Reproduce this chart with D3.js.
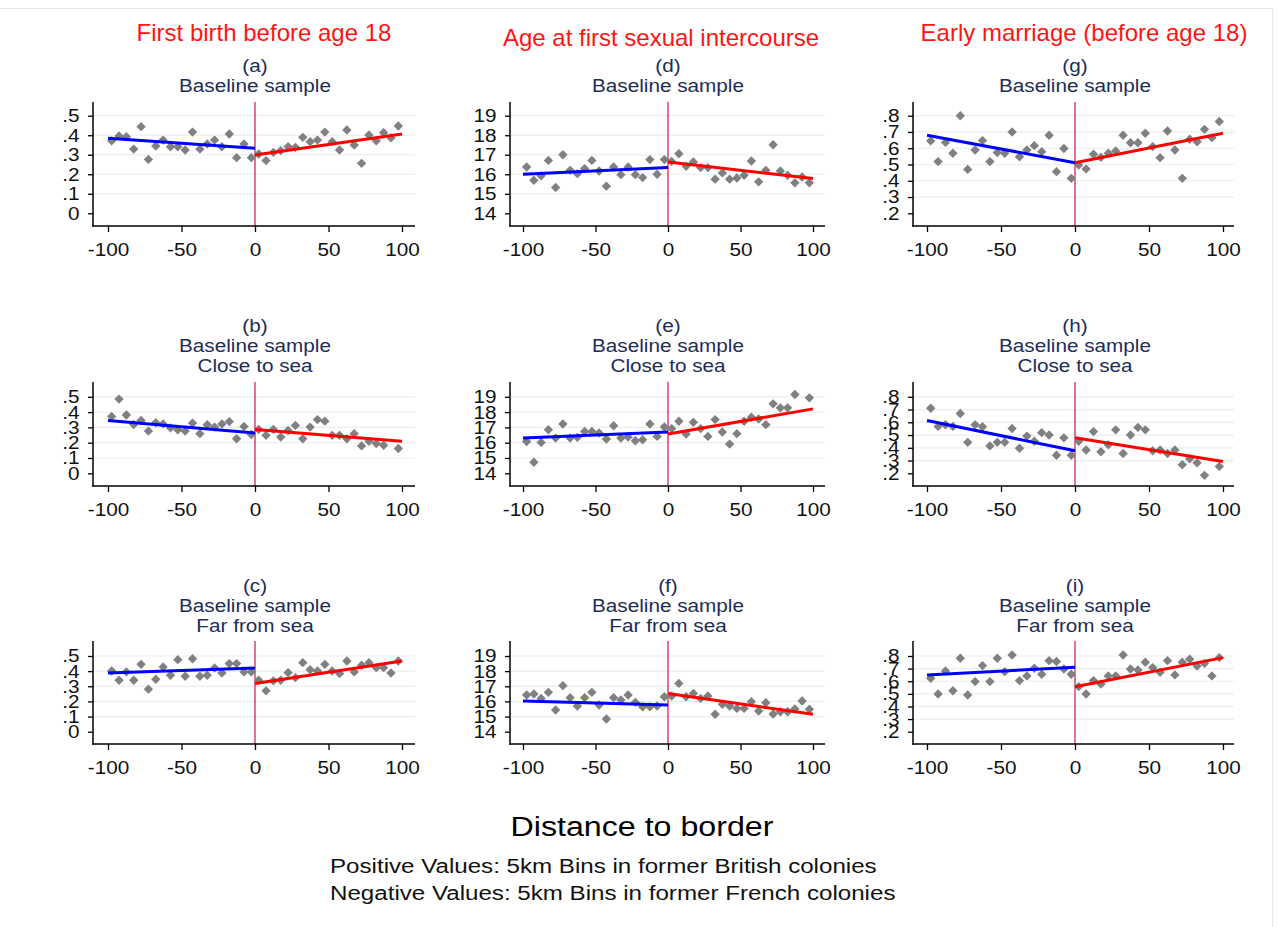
<!DOCTYPE html>
<html><head><meta charset="utf-8">
<script src="https://cdn.jsdelivr.net/npm/d3@7"></script>
<style>body{margin:0;background:#fff;} svg{display:block;font-family:Arial,"Liberation Sans",sans-serif;}</style>
</head><body><svg id="c" width="1282" height="927"></svg>
<script>
// ---------------- DATA ----------------
const headers = ["First birth before age 18", "Age at first sexual intercourse", "Early marriage (before age 18)"];
const xTicks = [-100, -50, 0, 50, 100];
const yTicksBirth = [0, 0.1, 0.2, 0.3, 0.4, 0.5];
const yTicksAge = [14, 15, 16, 17, 18, 19];
const yTicksMarriage = [0.2, 0.3, 0.4, 0.5, 0.6, 0.7, 0.8];
const binsFrench = [-97.5, -92.5, -87.5, -82.5, -77.5, -72.5, -67.5, -62.5, -57.5, -52.5, -47.5, -42.5, -37.5, -32.5, -27.5, -22.5, -17.5, -12.5, -7.5, -2.5];
const binsBritish = [2.5, 7.5, 12.5, 17.5, 22.5, 27.5, 32.5, 37.5, 42.5, 47.5, 52.5, 57.5, 62.5, 67.5, 72.5, 77.5, 82.5, 87.5, 92.5, 97.5];
const fitEnds = [-100, 0, 100];
const sampleLines = [["Baseline sample"], ["Baseline sample", "Close to sea"], ["Baseline sample", "Far from sea"]];

const a_fr = [.372,.396,.392,.329,.444,.276,.345,.375,.341,.341,.324,.416,.329,.355,.375,.341,.406,.285,.355,.285];
const a_br = [.304,.270,.312,.321,.341,.338,.389,.367,.375,.416,.367,.324,.427,.350,.256,.401,.372,.413,.387,.447];
const a_fitFr = [.384, .333], a_fitBr = [.299, .406];

const b_fr = [.371,.485,.381,.319,.345,.276,.330,.323,.297,.284,.276,.328,.259,.317,.302,.323,.338,.226,.306,.254];
const b_br = [.287,.248,.287,.237,.280,.313,.226,.302,.351,.341,.248,.248,.226,.259,.179,.209,.194,.183,null,.162];
const b_fitFr = [.345, .263], b_fitBr = [.287, .209];

const c_fr = [.401,.340,.395,.340,.445,.281,.346,.428,.373,.476,.366,.482,.366,.373,.421,.388,.450,.450,.395,.395];
const c_br = [.340,.270,.336,.340,.390,.357,.456,.410,.401,.445,.401,.384,.467,.395,.439,.456,.423,.423,.388,.467];
const c_fitFr = [.388, .421], c_fitBr = [.318, .467];

const d_fr = [16.37,15.69,15.92,16.71,15.32,17.0,16.2,16.03,16.29,16.71,16.17,15.39,16.37,15.98,16.37,15.98,15.83,16.75,16.0,16.75];
const d_br = [16.66,17.05,16.41,16.63,16.34,16.34,15.75,16.07,15.75,15.81,15.95,16.68,15.61,16.2,17.51,16.17,15.95,15.56,15.86,15.56];
const d_fitFr = [16.0, 16.34], d_fitBr = [16.63, 15.78];

const e_fr = [16.08,14.72,16.02,16.85,16.3,17.22,16.3,16.35,16.74,16.74,16.63,16.24,17.11,16.3,16.37,16.13,16.19,17.22,16.41,17.03];
const e_br = [16.92,17.4,16.57,17.33,16.92,16.41,17.51,16.7,15.91,16.59,17.4,17.66,17.55,17.18,18.54,18.28,18.28,19.15,null,18.93];
const e_fitFr = [16.3, 16.7], e_fitBr = [16.57, 18.21];

const f_fr = [16.42,16.49,16.2,16.6,15.43,17.04,16.25,15.7,16.25,16.6,15.76,14.84,16.25,16.09,16.42,15.94,15.65,15.65,15.7,16.31];
const f_br = [16.36,17.19,16.31,16.53,16.2,16.36,15.15,15.81,15.7,15.54,15.54,15.98,15.37,15.92,15.17,15.32,15.32,15.5,16.03,15.48];
const f_fitFr = [16.03, 15.76], f_fitBr = [16.53, 15.15];

const g_fr = [.645,.518,.636,.569,.800,.470,.589,.647,.518,.573,.569,.700,.548,.589,.616,.579,.680,.456,.598,.415];
const g_br = [.497,.473,.563,.544,.569,.583,.680,.634,.634,.692,.610,.542,.706,.589,.415,.655,.640,.716,.665,.764];
const g_fitFr = [.680, .511], g_fitBr = [.511, .692];

const h_fr = [.710,.568,.581,.568,.669,.443,.581,.565,.415,.443,.443,.551,.396,.492,.451,.519,.500,.342,.478,.342];
const h_br = [.451,.383,.527,.369,.423,.541,.355,.500,.560,.541,.377,.383,.355,.383,.268,.314,.282,.184,null,.254];
const h_fitFr = [.614, .377], h_fitBr = [.478, .293];

const i_fr = [.623,.499,.681,.525,.782,.491,.597,.724,.597,.782,.676,.808,.605,.642,.703,.655,.763,.756,.697,.655];
const i_br = [.557,.499,.605,.578,.642,.642,.808,.697,.689,.750,.708,.671,.763,.650,.750,.774,.721,.742,.642,.787];
const i_fitFr = [.650, .711], i_fitBr = [.557, .787];

const xTitle = "Distance to border";
const notes = ["Positive Values: 5km Bins in former British colonies", "Negative Values: 5km Bins in former French colonies"];

// ---------------- LAYOUT ----------------
const panels = [
  {letter:"a", col:0, row:0, ticks:yTicksBirth, fr:a_fr, br:a_br, fitFr:a_fitFr, fitBr:a_fitBr},
  {letter:"b", col:0, row:1, ticks:yTicksBirth, fr:b_fr, br:b_br, fitFr:b_fitFr, fitBr:b_fitBr},
  {letter:"c", col:0, row:2, ticks:yTicksBirth, fr:c_fr, br:c_br, fitFr:c_fitFr, fitBr:c_fitBr},
  {letter:"d", col:1, row:0, ticks:yTicksAge, fr:d_fr, br:d_br, fitFr:d_fitFr, fitBr:d_fitBr},
  {letter:"e", col:1, row:1, ticks:yTicksAge, fr:e_fr, br:e_br, fitFr:e_fitFr, fitBr:e_fitBr},
  {letter:"f", col:1, row:2, ticks:yTicksAge, fr:f_fr, br:f_br, fitFr:f_fitFr, fitBr:f_fitBr},
  {letter:"g", col:2, row:0, ticks:yTicksMarriage, fr:g_fr, br:g_br, fitFr:g_fitFr, fitBr:g_fitBr},
  {letter:"h", col:2, row:1, ticks:yTicksMarriage, fr:h_fr, br:h_br, fitFr:h_fitFr, fitBr:h_fitBr},
  {letter:"i", col:2, row:2, ticks:yTicksMarriage, fr:i_fr, br:i_br, fitFr:i_fitFr, fitBr:i_fitBr}
];
const cols = [
  {axisX:93, x0:108, x1:402, right:415, hx:264, hy:41},
  {axisX:510, x0:523, x1:813, right:825, hx:661, hy:46},
  {axisX:913, x0:927, x1:1223, right:1234, hx:1084, hy:41}
];
const rows = [
  {top:102, bottom:226, tTop:115.7, tBot:213.3, titleY:65},
  {top:382, bottom:486, tTop:396.8, tBot:473.3, titleY:325},
  {top:641, bottom:744, tTop:656, tBot:731.7, titleY:585}
];
const SX = 1.12;
const FS = 18.5;
const titleColor = "#1d2d58";

const svg = d3.select("#c");
svg.append("rect").attr("width",1282).attr("height",927).attr("fill","#fff");
svg.append("path").attr("d","M0,8.5H1272.5V927").attr("fill","none").attr("stroke","#e3eaec").attr("stroke-width",1);

function txt(g, x, y, s, size, color, anchor, sx){
  return g.append("text").attr("transform",`translate(${x},${y}) scale(${sx},1)`)
    .attr("text-anchor", anchor).attr("font-size", size).attr("fill", color).text(s);
}

// column headers
headers.forEach((h,i)=>{
  txt(svg, cols[i].hx, cols[i].hy, h, 24, "#ff1414", "middle", 1);
});

const fmtShort = d => d === 0 ? "0" : (Number.isInteger(d) ? String(d) : String(+d.toFixed(2)).replace(/^0\./, "."));
const diamond = d3.symbol().type(d3.symbolSquare).size(44)();

panels.forEach(p => {
  const C = cols[p.col], R = rows[p.row];
  const x = d3.scaleLinear().domain([-100, 100]).range([C.x0, C.x1]);
  const y = d3.scaleLinear().domain([p.ticks[0], p.ticks[p.ticks.length-1]]).range([R.tBot, R.tTop]);
  const g = svg.append("g");

  // titles
  const lines = ["(" + p.letter + ")"].concat(sampleLines[p.row]);
  lines.forEach((l, k) => txt(g, x(0), R.titleY + k*20 + 6.5, l, FS, titleColor, "middle", SX));

  // gridlines
  g.selectAll(".grid").data(p.ticks.slice(1)).enter().append("line")
    .attr("x1", C.axisX).attr("x2", C.right).attr("y1", d=>y(d)).attr("y2", d=>y(d))
    .attr("stroke", "#e7eff0").attr("stroke-width", 1.2);

  // border line at 0
  g.append("line").attr("x1", x(0)).attr("x2", x(0)).attr("y1", R.top).attr("y2", R.bottom)
    .attr("stroke", "#d23a60").attr("stroke-width", 1.4);

  // points
  const pts = binsFrench.map((b,k)=>({x:b, v:p.fr[k]})).concat(binsBritish.map((b,k)=>({x:b, v:p.br[k]})))
    .filter(d => d.v !== null);
  g.selectAll(".pt").data(pts).enter().append("path")
    .attr("d", diamond)
    .attr("transform", d => `translate(${x(d.x)},${y(d.v)}) rotate(45)`)
    .attr("fill", "#808080");

  // fit lines
  const line = d3.line().x(d=>x(d[0])).y(d=>y(d[1]));
  g.append("path").attr("d", line([[fitEnds[0], p.fitFr[0]], [fitEnds[1], p.fitFr[1]]]))
    .attr("stroke", "#0000ff").attr("stroke-width", 3).attr("fill", "none");
  g.append("path").attr("d", line([[fitEnds[1], p.fitBr[0]], [fitEnds[2], p.fitBr[1]]]))
    .attr("stroke", "#ff0000").attr("stroke-width", 3).attr("fill", "none");

  // y axis
  const ya = g.append("g").attr("transform", `translate(${C.axisX},0)`)
    .call(d3.axisLeft(y).tickValues(p.ticks).tickSize(5).tickPadding(7).tickFormat(fmtShort));
  ya.select(".domain").remove();
  ya.selectAll("line").attr("stroke", "#000").attr("stroke-width", 1.3);
  ya.selectAll("text").attr("font-size", FS).attr("font-family", "Arial, 'Liberation Sans', sans-serif")
    .attr("fill", "#111").attr("transform", `scale(${SX},1)`);
  g.append("line").attr("x1", C.axisX).attr("x2", C.axisX).attr("y1", R.top).attr("y2", R.bottom + 0.7)
    .attr("stroke", "#000").attr("stroke-width", 1.5);

  // x axis
  const xa = g.append("g").attr("transform", `translate(0,${R.bottom})`)
    .call(d3.axisBottom(x).tickValues(xTicks).tickSize(6).tickPadding(11).tickFormat(d => String(d)));
  xa.select(".domain").remove();
  xa.selectAll("line").attr("stroke", "#000").attr("stroke-width", 1.3);
  xa.selectAll("text").attr("font-size", FS).attr("font-family", "Arial, 'Liberation Sans', sans-serif")
    .attr("fill", "#111").attr("transform", `scale(${SX},1)`);
  g.append("line").attr("x1", C.axisX - 0.7).attr("x2", C.right).attr("y1", R.bottom).attr("y2", R.bottom)
    .attr("stroke", "#000").attr("stroke-width", 1.5);
});

// bottom texts
txt(svg, 642, 836, xTitle, 28, "#000", "middle", 1.15);
txt(svg, 330, 873, notes[0], 21, "#111", "start", 1.15);
txt(svg, 330, 900, notes[1], 21, "#111", "start", 1.15);
</script></body></html>
